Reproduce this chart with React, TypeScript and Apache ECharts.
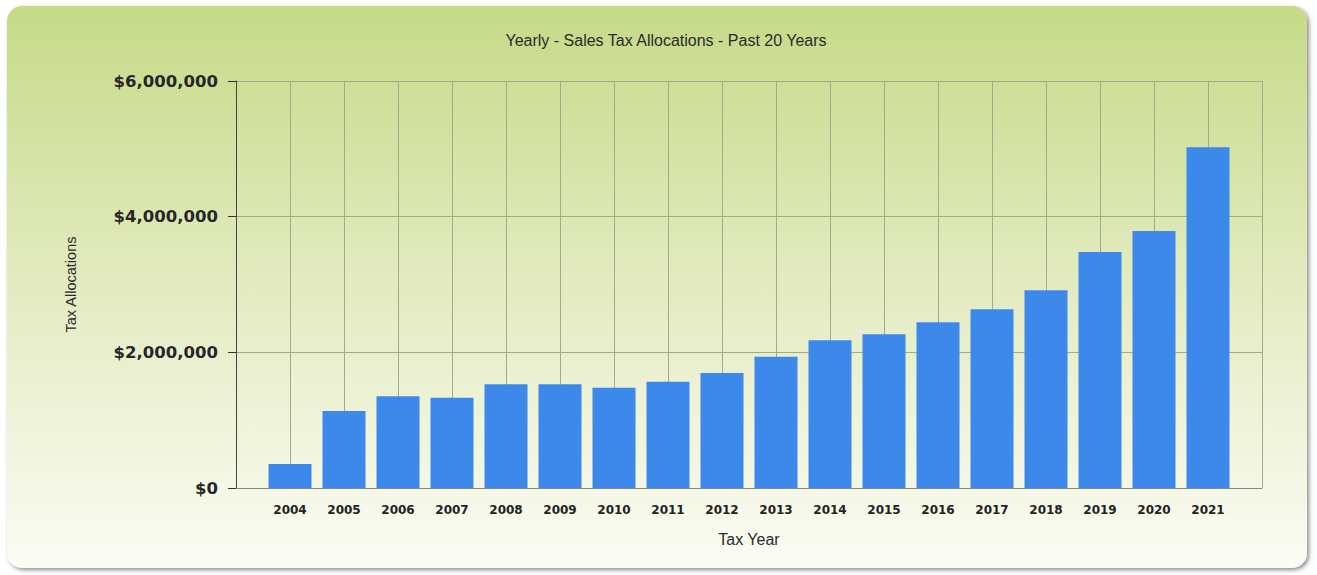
import React, { useEffect, useRef } from "react";
import * as echarts from "echarts";

const years = [2004, 2005, 2006, 2007, 2008, 2009, 2010, 2011, 2012, 2013, 2014, 2015, 2016, 2017, 2018, 2019, 2020, 2021];
const allocations = [355000, 1135000, 1352000, 1331000, 1529000, 1529000, 1479000, 1567000, 1695000, 1936000, 2177000, 2266000, 2443000, 2634000, 2914000, 3479000, 3789000, 5023000];
const yTicks = [0, 2000000, 4000000, 6000000];
const titleText = "Yearly - Sales Tax Allocations - Past 20 Years";

export default function App() {
  const ref = useRef<HTMLDivElement>(null);
  useEffect(() => {
    if (!ref.current) return;
    const chart = echarts.init(ref.current, undefined, { renderer: "svg" });
    const fmt = (v: number) => "$" + v.toLocaleString("en-US");
    chart.setOption({
      animation: false,
      backgroundColor: "#ffffff",
      graphic: [
        {
          type: "rect",
          z: -10,
          shape: { x: 7, y: 6, width: 1300, height: 562, r: 15 },
          style: {
            fill: new echarts.graphic.LinearGradient(0, 0, 0, 1, [
              { offset: 0, color: "#c6da87" },
              { offset: 0.5, color: "#e3ebc1" },
              { offset: 1, color: "#fbfcf4" },
            ]),
            shadowBlur: 4,
            shadowOffsetX: 2,
            shadowOffsetY: 2,
            shadowColor: "rgba(0,0,0,0.45)",
          },
        },
      ],
      title: {
        text: titleText,
        left: 661,
        textAlign: "center",
        top: 27,
        textStyle: { fontFamily: "Liberation Sans", fontSize: 16, fontWeight: "normal", color: "#2a2a2a" },
      },
      grid: { left: 236, right: 55, top: 81, bottom: 87 },
      xAxis: {
        type: "value",
        min: 2003,
        max: 2022,
        interval: 1,
        name: "Tax Year",
        nameLocation: "middle",
        nameGap: 43,
        nameTextStyle: { fontFamily: "Liberation Sans", fontSize: 16, color: "#2a2a2a" },
        axisLine: { show: true, lineStyle: { color: "#8a8a80", width: 1 } },
        axisTick: { show: false },
        axisLabel: {
          margin: 16,
          fontFamily: "DejaVu Sans",
          fontWeight: "bold",
          fontSize: 12,
          color: "#222",
          formatter: (v: number) => (years.indexOf(v) >= 0 ? String(v) : ""),
        },
        splitLine: { show: true, lineStyle: { color: "#a2aa86", width: 1 } },
      },
      yAxis: {
        type: "value",
        min: yTicks[0],
        max: yTicks[yTicks.length - 1],
        interval: yTicks[1] - yTicks[0],
        name: "Tax Allocations",
        nameLocation: "middle",
        nameGap: 158,
        nameTextStyle: { fontFamily: "Liberation Sans", fontSize: 14.5, color: "#2a2a2a" },
        axisLine: { show: true, lineStyle: { color: "#444", width: 1 } },
        axisTick: { show: true, length: 8, lineStyle: { color: "#333" } },
        axisLabel: {
          margin: 18,
          fontFamily: "DejaVu Sans",
          fontWeight: "bold",
          fontSize: 16.5,
          color: "#262626",
          formatter: fmt,
        },
        splitLine: { show: true, lineStyle: { color: "#a2aa86", width: 1 } },
      },
      series: [
        {
          type: "bar",
          barWidth: 43,
          itemStyle: { color: "#3d89eb" },
          data: years.map((y, i) => [y, allocations[i]]),
        },
      ],
    });
    return () => chart.dispose();
  }, []);
  return (
    <div
      ref={ref}
      style={{ position: "absolute", left: 0, top: 0, width: 1317, height: 575 }}
    />
  );
}
